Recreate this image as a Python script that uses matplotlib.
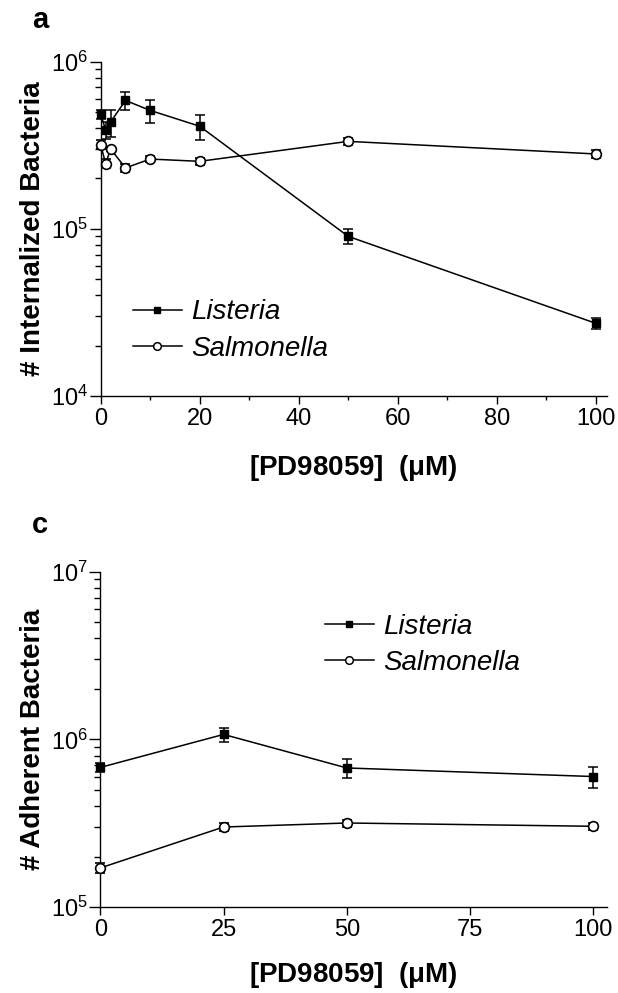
import matplotlib
matplotlib.use("Agg")
import matplotlib.pyplot as plt
import numpy as np
from matplotlib.ticker import LogLocator, LogFormatterSciNotation, MultipleLocator, NullFormatter
from matplotlib.lines import Line2D

plt.rcParams.update({"font.family": ["Liberation Sans", "DejaVu Sans"],
                     "mathtext.default": "regular", "axes.linewidth": 1.0})

# ---- panel a: internalized bacteria vs PD98059 ----
CONC_A = [0, 1, 2, 5, 10, 20, 50, 100]
LIST_A = [4.85e5, 3.9e5, 4.35e5, 5.85e5, 5.1e5, 4.1e5, 9.0e4, 2.72e4]
LIST_A_ERR = [0.3e5, 0.45e5, 0.8e5, 0.7e5, 0.8e5, 0.7e5, 0.9e4, 0.2e4]
SALM_A = [3.18e5, 2.45e5, 3.0e5, 2.31e5, 2.61e5, 2.53e5, 3.33e5, 2.8e5]
SALM_A_ERR = [0.2e5, 0.15e5, 0.1e5, 0.12e5, 0.12e5, 0.12e5, 0.15e5, 0.15e5]

# ---- panel c: adherent bacteria vs PD98059 ----
CONC_C = [0, 25, 50, 100]
LIST_C = [6.8e5, 1.07e6, 6.75e5, 6.0e5]
LIST_C_ERR = [0.4e5, 1.0e5, 0.85e5, 0.85e5]
SALM_C = [1.71e5, 3.0e5, 3.17e5, 3.03e5]
SALM_C_ERR = [0.12e5, 0.15e5, 0.15e5, 0.15e5]

XLABEL = "[PD98059]  ($\\mu$M)"

W, H = 618, 993
fig = plt.figure(figsize=(W/100, H/100), dpi=100)

def px_axes(x0, x1, ytop, ybot):
    return fig.add_axes([x0/W, 1-ybot/H, (x1-x0)/W, (ybot-ytop)/H])

def style(ax, ylim, xlim, xmajor, xminor):
    ax.set_yscale("log")
    ax.set_ylim(*ylim); ax.set_xlim(*xlim)
    for s in ["top", "right"]:
        ax.spines[s].set_visible(False)
    ax.yaxis.set_major_locator(LogLocator(base=10, numticks=10))
    ax.yaxis.set_minor_locator(LogLocator(base=10, subs=np.arange(2, 10), numticks=20))
    ax.yaxis.set_major_formatter(LogFormatterSciNotation())
    ax.yaxis.set_minor_formatter(NullFormatter())
    ax.xaxis.set_major_locator(MultipleLocator(xmajor))
    if xminor:
        ax.xaxis.set_minor_locator(MultipleLocator(xminor))
    ax.tick_params(axis="y", which="major", direction="out", length=8, width=1, pad=1, labelsize=17)
    ax.tick_params(axis="y", which="minor", direction="out", length=4.5, width=1)
    ax.tick_params(axis="x", which="major", direction="out", length=5.5, width=1, pad=3, labelsize=17)
    ax.tick_params(axis="x", which="minor", direction="out", length=3, width=1)

def draw(ax, x, ly, le, sy, se):
    ax.errorbar(x, ly, yerr=le, color="black", lw=1.1, marker="s", ms=6,
                mfc="black", mec="black", capsize=3.5, elinewidth=1.1, capthick=1.1,
                clip_on=False, zorder=4)
    ax.errorbar(x, sy, yerr=se, color="black", lw=1.1, marker="o", ms=7,
                mfc="white", mec="black", mew=1.2, capsize=3.5, elinewidth=1.1,
                capthick=1.1, clip_on=False, zorder=5)

def legend(x, y):
    handles = [Line2D([], [], color="black", lw=1.1, marker="s", ms=4.5, mfc="black"),
               Line2D([], [], color="black", lw=1.1, marker="o", ms=5.5, mfc="white", mew=1.1)]
    fig.legend(handles, ["Listeria", "Salmonella"], loc="center left",
               bbox_to_anchor=(x/W, 1-y/H), frameon=False, borderpad=0,
               borderaxespad=0, handlelength=1.75, handletextpad=0.35,
               labelspacing=0.38, prop={"style": "italic", "size": 20})

# panel a
ax1 = px_axes(100.7, 606.7, 61.5, 396)
style(ax1, (1e4, 1e6), (0, 102.2), 20, 10)
draw(ax1, CONC_A, LIST_A, LIST_A_ERR, SALM_A, SALM_A_ERR)
legend(133, 330.5)
fig.text(353/W, 1-468/H, XLABEL, ha="center", va="center",
         fontsize=20, fontweight="bold")
fig.text(33/W, 1-229/H, "# Internalized Bacteria", rotation=90, ha="center",
         va="center", fontsize=20, fontweight="bold")
fig.text(40/W, 1-20/H, "a", ha="center", va="center", fontsize=21, fontweight="bold")

# panel c
ax2 = px_axes(100.3, 606.7, 571.7, 907)
style(ax2, (1e5, 1e7), (0, 102.7), 25, None)
draw(ax2, CONC_C, LIST_C, LIST_C_ERR, SALM_C, SALM_C_ERR)
legend(325, 644.8)
fig.text(353/W, 1-975/H, XLABEL, ha="center", va="center",
         fontsize=20, fontweight="bold")
fig.text(33/W, 1-739/H, "# Adherent Bacteria", rotation=90, ha="center",
         va="center", fontsize=20, fontweight="bold")
fig.text(40/W, 1-525/H, "c", ha="center", va="center", fontsize=21, fontweight="bold")

fig.savefig("out.png", dpi=100)
